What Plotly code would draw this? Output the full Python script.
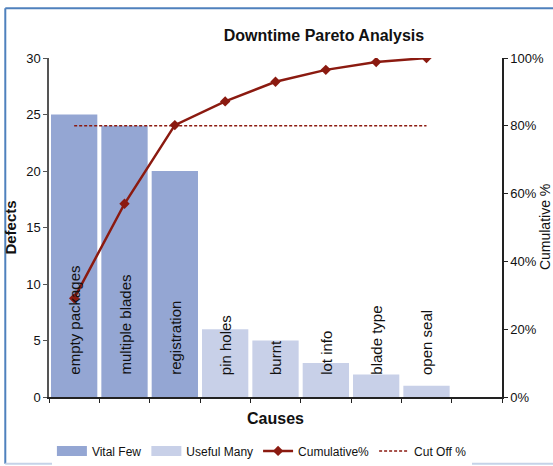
import plotly.graph_objects as go

# Downtime causes, sorted by number of defects
causes = ["empty packages", "multiple blades", "registration", "pin holes",
          "burnt", "lot info", "blade type", "open seal"]
defects = [25, 24, 20, 6, 5, 3, 2, 1]
cumulative_pct = [29.1, 57.0, 80.2, 87.2, 93.0, 96.5, 98.8, 100.0]
cutoff_pct = 80
vital_count = 3

pos = list(range(len(causes)))
FONT = "Liberation Sans, Arial, sans-serif"
BAR_VITAL = "#94A6D3"
BAR_USEFUL = "#C8D0E8"
LINE_RED = "#8B1A10"

fig = go.Figure()

fig.add_trace(go.Bar(
    x=pos[:vital_count], y=defects[:vital_count], name="Vital Few",
    legendgroup="vital", showlegend=False,
    marker=dict(color=BAR_VITAL, line=dict(width=0)), width=0.92,
))
fig.add_trace(go.Bar(
    x=pos[vital_count:], y=defects[vital_count:], name="Useful Many",
    legendgroup="useful", showlegend=False,
    marker=dict(color=BAR_USEFUL, line=dict(width=0)), width=0.92,
))
# wide rectangular legend swatches for the two bar groups
fig.add_trace(go.Scatter(
    x=[None], y=[None], name="Vital Few", legendgroup="vital", mode="lines",
    line=dict(color=BAR_VITAL, width=10),
))
fig.add_trace(go.Scatter(
    x=[None], y=[None], name="Useful Many", legendgroup="useful", mode="lines",
    line=dict(color=BAR_USEFUL, width=10),
))
fig.add_trace(go.Scatter(
    x=pos, y=[v / 100 for v in cumulative_pct], name="Cumulative%", yaxis="y2",
    mode="lines+markers",
    line=dict(color=LINE_RED, width=2.5),
    marker=dict(symbol="diamond", size=8, color=LINE_RED),
))
fig.add_trace(go.Scatter(
    x=[pos[0], pos[-1]], y=[cutoff_pct / 100] * 2, name="Cut Off %", yaxis="y2",
    mode="lines",
    line=dict(color=LINE_RED, width=1.5, dash="3px,2px"),
))

# category names written vertically inside the bars
for p, name in zip(pos, causes):
    fig.add_annotation(
        x=p, y=0, xref="x", yref="y", text=name, textangle=-90,
        showarrow=False, xanchor="center", yanchor="bottom", yshift=20,
        font=dict(family=FONT, size=15, color="#111"),
    )

# right-hand axis title
fig.add_annotation(
    x=1.094, y=0.5, xref="paper", yref="paper", text="Cumulative %",
    textangle=-90, showarrow=False, xanchor="center", yanchor="middle",
    font=dict(family=FONT, size=14, color="#111"),
)

# chart frame
fig.add_shape(type="line", xref="paper", yref="paper",
              x0=-0.0965, x1=-0.0965, y0=-0.197, y1=1.147,
              line=dict(color="#4F81BD", width=2))
fig.add_shape(type="line", xref="paper", yref="paper",
              x0=-0.0965, x1=1.12, y0=1.147, y1=1.147,
              line=dict(color="#4F81BD", width=2))
fig.add_shape(type="line", xref="paper", yref="paper",
              x0=-0.0965, x1=1.12, y0=-0.197, y1=-0.197,
              line=dict(color="#C5D3E8", width=2))

fig.update_layout(
    width=553, height=466,
    margin=dict(l=49, r=51, t=58, b=69, autoexpand=False),
    paper_bgcolor="white", plot_bgcolor="white",
    font=dict(family=FONT, size=13, color="#111"),
    title=dict(text="<b>Downtime Pareto Analysis</b>", x=0.607, xref="paper",
               xanchor="center", y=0.925, yanchor="middle",
               font=dict(family=FONT, size=16, color="#111")),
    bargap=0.08,
    showlegend=True,
    legend=dict(orientation="h", x=0.47, xanchor="center", y=-0.159,
                yanchor="middle", font=dict(family=FONT, size=12, color="#111"),
                itemwidth=30, tracegroupgap=0),
    xaxis=dict(
        range=[-0.5, 8.5], tickvals=[i - 0.5 for i in range(10)],
        ticktext=[""] * 10, ticks="outside", ticklen=4, tickcolor="#222",
        showline=True, linecolor="#222", linewidth=1.5, showgrid=False,
        zeroline=False, automargin=False,
        title=dict(text="<b>Causes</b>", standoff=8,
                   font=dict(family=FONT, size=16, color="#111")),
    ),
    yaxis=dict(
        range=[0, 30], dtick=5, ticks="outside", ticklen=4, tickcolor="#555",
        showline=True, linecolor="#555", linewidth=1.5, showgrid=False,
        zeroline=False, automargin=False,
        title=dict(text="<b>Defects</b>", standoff=6,
                   font=dict(family=FONT, size=15, color="#111")),
    ),
    yaxis2=dict(
        range=[0, 1], dtick=0.2, tickformat=".0%", overlaying="y", side="right",
        ticks="outside", ticklen=4, tickcolor="#222", automargin=False,
        showline=True, linecolor="#222", linewidth=1.5, showgrid=False,
        zeroline=False,
    ),
)

fig.write_html("out.html")
